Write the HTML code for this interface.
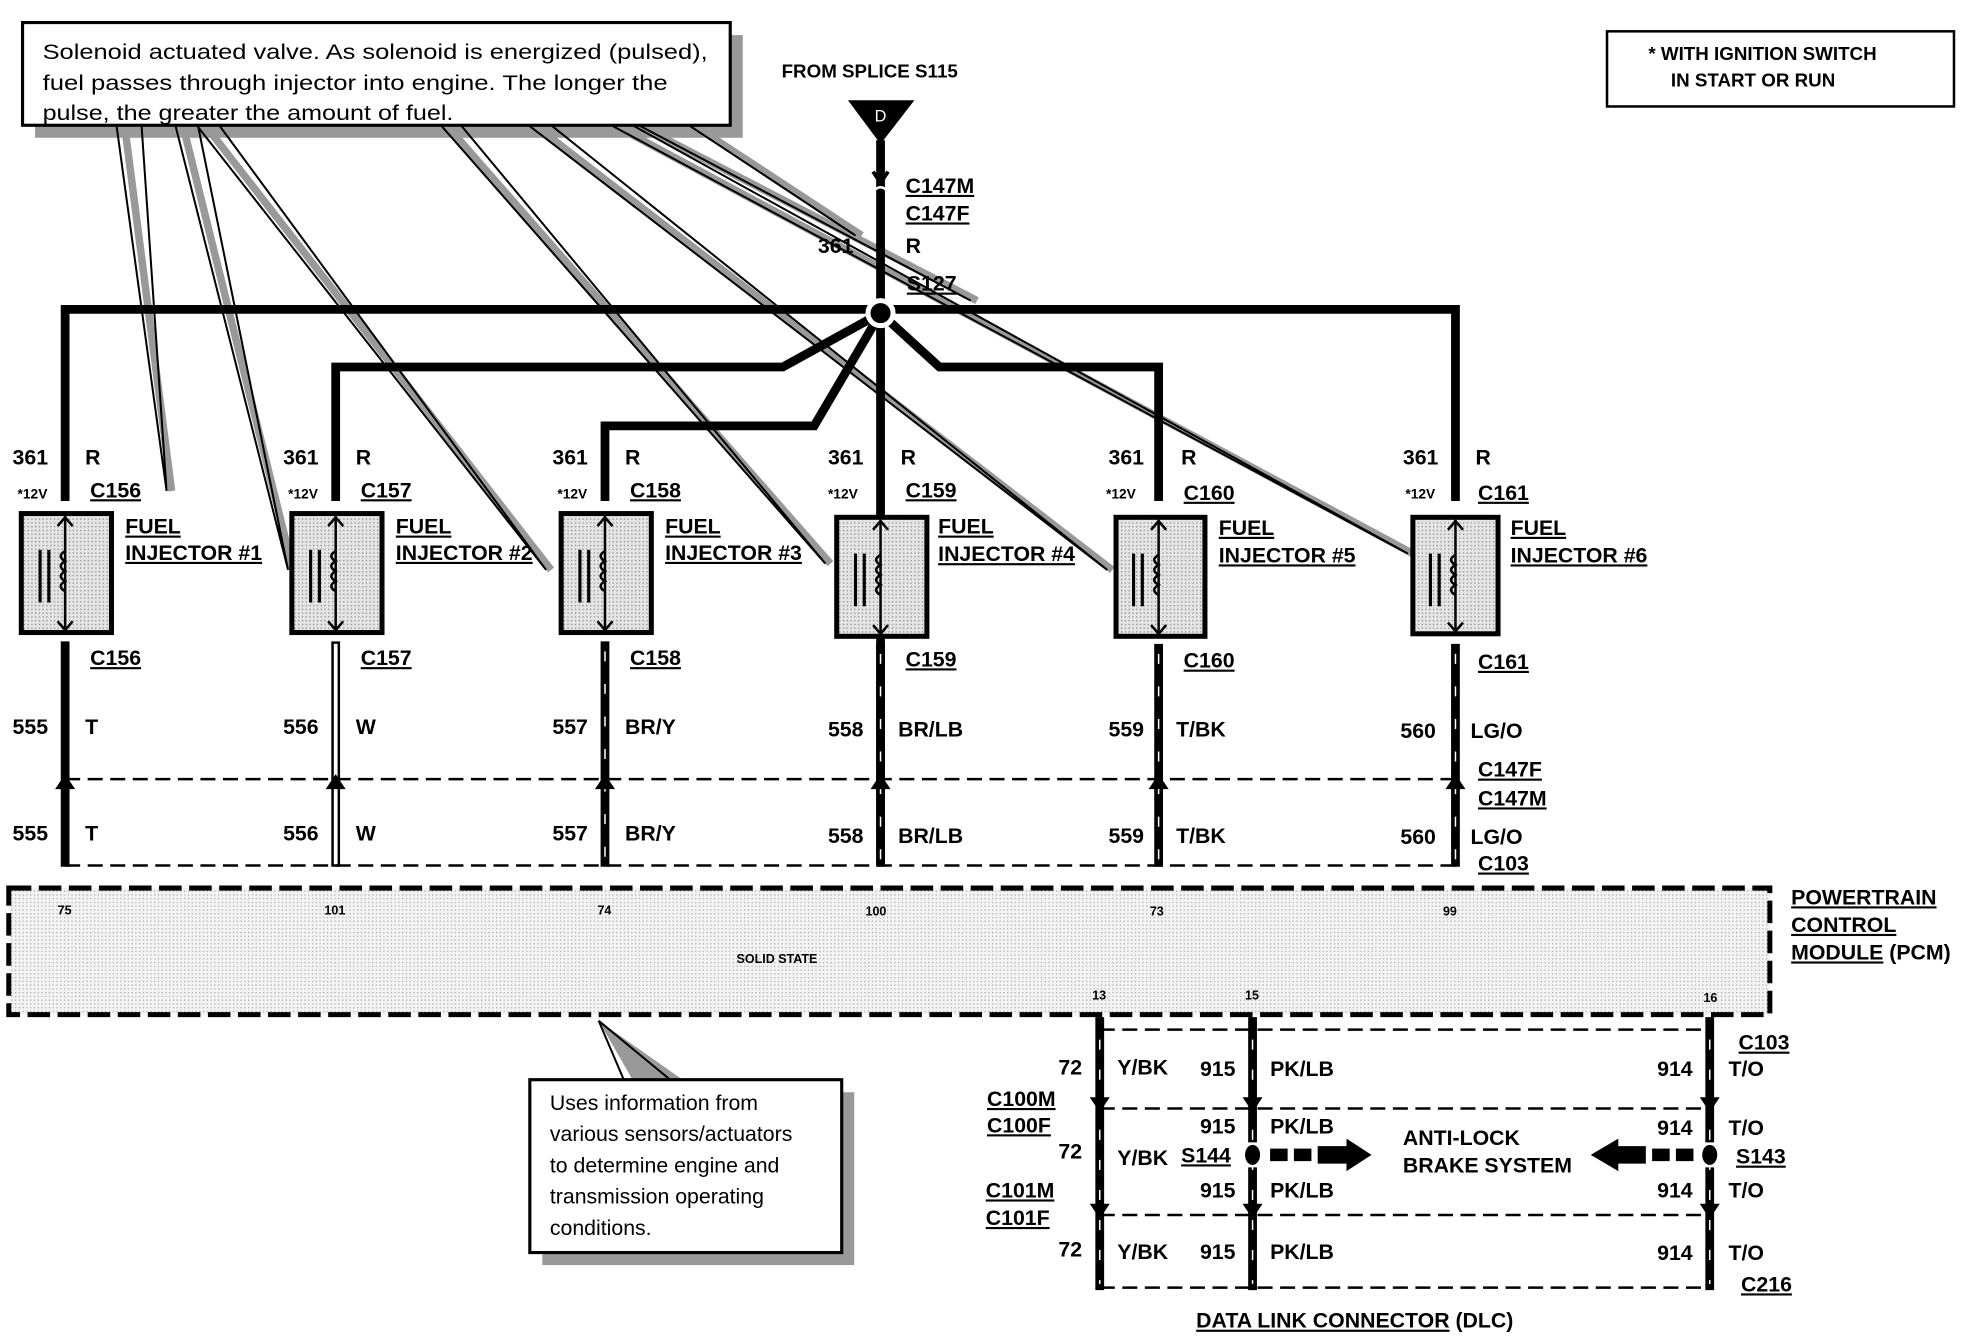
<!DOCTYPE html>
<html><head><meta charset="utf-8"><style>
html,body{margin:0;padding:0;background:#fff;}
svg{display:block;}
text{font-family:"Liberation Sans Narrow","Liberation Sans",sans-serif;font-weight:bold;fill:#000;}
.n{font-family:"Liberation Sans",sans-serif;font-weight:normal;font-size:17px;}
.b{font-size:17px;}
.s{font-size:11px;}
.u{text-decoration:underline;}
</style></head><body>
<svg width="1964" height="1344" viewBox="0 0 1568 1073" xmlns="http://www.w3.org/2000/svg">
<defs>
<pattern id="dot" width="3" height="3" patternUnits="userSpaceOnUse"><rect width="3" height="3" fill="#e4e4e4"/><rect width="1" height="1" fill="#888"/></pattern>
<pattern id="dot2" width="3" height="3" patternUnits="userSpaceOnUse"><rect width="3" height="3" fill="#f3f3f3"/><rect width="1" height="1" fill="#aaa"/></pattern>
</defs>

<!-- top callout -->
<rect x="28" y="28" width="565" height="82" fill="#999"/>
<rect x="18" y="18" width="565" height="82" fill="#fff" stroke="#000" stroke-width="2.5"/>
<text class="n" x="34" y="47" textLength="531" lengthAdjust="spacingAndGlyphs">Solenoid actuated valve.  As solenoid is energized (pulsed),</text>
<text class="n" x="34" y="72" textLength="499" lengthAdjust="spacingAndGlyphs">fuel passes through injector into engine.  The longer the</text>
<text class="n" x="34" y="96" textLength="328" lengthAdjust="spacingAndGlyphs">pulse, the greater the amount of fuel.</text>

<!-- leaders -->
<g stroke="#999" stroke-width="6" fill="none">
<line x1="100" y1="104" x2="137" y2="392"/>
<line x1="147" y1="104" x2="234" y2="455"/>
<line x1="167" y1="104" x2="440" y2="455"/>
<line x1="360" y1="104" x2="663" y2="450"/>
<line x1="432" y1="104" x2="888" y2="455"/>
<line x1="498" y1="104" x2="1128" y2="442"/>
<line x1="518" y1="104" x2="780" y2="240"/>
<line x1="560" y1="104" x2="688" y2="188"/>
</g>
<g stroke="#000" stroke-width="1.6" fill="none">
<path d="M93 100 L133 392 L113 100"/>
<path d="M140 100 L230 455 L158 100"/>
<path d="M157 100 L436 455 L175 100"/>
<path d="M352 100 L659 450 L368 100"/>
<path d="M422 100 L884 455 L440 100"/>
<path d="M488 100 L1124 442 L505 100"/>
<path d="M510 100 L775 240"/>
<path d="M550 100 L683 188"/>
</g>

<!-- top right note -->
<rect x="1283" y="25" width="277" height="60" fill="#fff" stroke="#000" stroke-width="2"/>
<text x="1316" y="48" font-size="15">* WITH IGNITION SWITCH</text>
<text x="1334" y="69" font-size="15">IN START OR RUN</text>

<!-- source -->
<text x="624" y="62" font-size="15">FROM SPLICE S115</text>
<polygon points="677,80 730,80 703,115" fill="#000"/>
<text x="703" y="97" font-size="13" text-anchor="middle" style="fill:#fff;font-weight:normal">D</text>
<g stroke="#000" stroke-width="7" fill="none" stroke-linejoin="miter">
<line x1="703" y1="112" x2="703" y2="690"/>
<polyline points="52,400 52,247 1162,247 1162,400"/>
<polyline points="703,250 625,293 268,293 268,400"/>
<polyline points="703,250 650,340 483,340 483,400"/>
<polyline points="703,250 750,293 925,293 925,400"/>
</g>
<path d="M697 137 L703 146 L709 137" stroke="#000" stroke-width="3" fill="none"/>
<path d="M697 153 Q703 146 709 153" stroke="#fff" stroke-width="2" fill="none"/>
<circle cx="703" cy="250" r="10" fill="#000" stroke="#fff" stroke-width="4"/>
<text class="b u" x="723" y="154">C147M</text>
<text class="b u" x="723" y="176">C147F</text>
<text class="b" x="653" y="202">361</text>
<text class="b" x="723" y="202">R</text>
<text class="b u" x="724" y="232">S127</text>

<!-- Injector columns -->
<g transform="translate(52,0)">
<text class="b" x="-42" y="371">361</text><text class="b" x="16" y="371">R</text>
<text class="s" x="-38" y="398">*12V</text><text class="b u" x="20" y="397">C156</text>
<rect x="-35" y="410" width="72" height="95" fill="url(#dot)" stroke="#000" stroke-width="4"/>
<line x1="0" y1="412" x2="0" y2="503" stroke="#000" stroke-width="2"/>
<path d="M-6 420 L0 413 L6 420 M-6 496 L0 503 L6 496" stroke="#000" stroke-width="2" fill="none"/>
<path d="M0 440 q-7 4 0 8 q-7 4 0 8 q-7 4 0 8 q-7 4 0 8" stroke="#000" stroke-width="2" fill="none"/>
<line x1="-20" y1="439" x2="-20" y2="481" stroke="#000" stroke-width="2.5"/><line x1="-13" y1="439" x2="-13" y2="481" stroke="#000" stroke-width="2.5"/>
<text class="b u" x="48" y="426">FUEL</text><text class="b u" x="48" y="447">INJECTOR #1</text>
<text class="b u" x="20" y="531">C156</text>
<line x1="0" y1="512" x2="0" y2="692" stroke="#000" stroke-width="7"/>
<text class="b" x="-42" y="586">555</text><text class="b" x="16" y="586">T</text>
<text class="b" x="-42" y="671">555</text><text class="b" x="16" y="671">T</text>
</g>
<g transform="translate(268,0)">
<text class="b" x="-42" y="371">361</text><text class="b" x="16" y="371">R</text>
<text class="s" x="-38" y="398">*12V</text><text class="b u" x="20" y="397">C157</text>
<rect x="-35" y="410" width="72" height="95" fill="url(#dot)" stroke="#000" stroke-width="4"/>
<line x1="0" y1="412" x2="0" y2="503" stroke="#000" stroke-width="2"/>
<path d="M-6 420 L0 413 L6 420 M-6 496 L0 503 L6 496" stroke="#000" stroke-width="2" fill="none"/>
<path d="M0 440 q-7 4 0 8 q-7 4 0 8 q-7 4 0 8 q-7 4 0 8" stroke="#000" stroke-width="2" fill="none"/>
<line x1="-20" y1="439" x2="-20" y2="481" stroke="#000" stroke-width="2.5"/><line x1="-13" y1="439" x2="-13" y2="481" stroke="#000" stroke-width="2.5"/>
<text class="b u" x="48" y="426">FUEL</text><text class="b u" x="48" y="447">INJECTOR #2</text>
<text class="b u" x="20" y="531">C157</text>
<line x1="0" y1="512" x2="0" y2="692" stroke="#000" stroke-width="7"/>
<line x1="0" y1="514" x2="0" y2="690" stroke="#fff" stroke-width="3"/>
<text class="b" x="-42" y="586">556</text><text class="b" x="16" y="586">W</text>
<text class="b" x="-42" y="671">556</text><text class="b" x="16" y="671">W</text>
</g>
<g transform="translate(483,0)">
<text class="b" x="-42" y="371">361</text><text class="b" x="16" y="371">R</text>
<text class="s" x="-38" y="398">*12V</text><text class="b u" x="20" y="397">C158</text>
<rect x="-35" y="410" width="72" height="95" fill="url(#dot)" stroke="#000" stroke-width="4"/>
<line x1="0" y1="412" x2="0" y2="503" stroke="#000" stroke-width="2"/>
<path d="M-6 420 L0 413 L6 420 M-6 496 L0 503 L6 496" stroke="#000" stroke-width="2" fill="none"/>
<path d="M0 440 q-7 4 0 8 q-7 4 0 8 q-7 4 0 8 q-7 4 0 8" stroke="#000" stroke-width="2" fill="none"/>
<line x1="-20" y1="439" x2="-20" y2="481" stroke="#000" stroke-width="2.5"/><line x1="-13" y1="439" x2="-13" y2="481" stroke="#000" stroke-width="2.5"/>
<text class="b u" x="48" y="426">FUEL</text><text class="b u" x="48" y="447">INJECTOR #3</text>
<text class="b u" x="20" y="531">C158</text>
<line x1="0" y1="512" x2="0" y2="692" stroke="#000" stroke-width="7"/>
<line x1="0" y1="520" x2="0" y2="690" stroke="#fff" stroke-width="1.2" stroke-dasharray="8 18"/>
<text class="b" x="-42" y="586">557</text><text class="b" x="16" y="586">BR/Y</text>
<text class="b" x="-42" y="671">557</text><text class="b" x="16" y="671">BR/Y</text>
</g>
<g transform="translate(703,0)">
<text class="b" x="-42" y="371">361</text><text class="b" x="16" y="371">R</text>
<text class="s" x="-42" y="398">*12V</text><text class="b u" x="20" y="397">C159</text>
<rect x="-35" y="413" width="72" height="95" fill="url(#dot)" stroke="#000" stroke-width="4"/>
<line x1="0" y1="415" x2="0" y2="506" stroke="#000" stroke-width="2"/>
<path d="M-6 423 L0 416 L6 423 M-6 499 L0 506 L6 499" stroke="#000" stroke-width="2" fill="none"/>
<path d="M0 443 q-7 4 0 8 q-7 4 0 8 q-7 4 0 8 q-7 4 0 8" stroke="#000" stroke-width="2" fill="none"/>
<line x1="-20" y1="442" x2="-20" y2="484" stroke="#000" stroke-width="2.5"/><line x1="-13" y1="442" x2="-13" y2="484" stroke="#000" stroke-width="2.5"/>
<text class="b u" x="46" y="426">FUEL</text><text class="b u" x="46" y="448">INJECTOR #4</text>
<text class="b u" x="20" y="532">C159</text>
<line x1="0" y1="514" x2="0" y2="692" stroke="#000" stroke-width="7"/>
<line x1="0" y1="522" x2="0" y2="690" stroke="#fff" stroke-width="1.2" stroke-dasharray="8 18"/>
<text class="b" x="-42" y="588">558</text><text class="b" x="14" y="588">BR/LB</text>
<text class="b" x="-42" y="673">558</text><text class="b" x="14" y="673">BR/LB</text>
</g>
<g transform="translate(925,0)">
<text class="b" x="-40" y="371">361</text><text class="b" x="18" y="371">R</text>
<text class="s" x="-42" y="398">*12V</text><text class="b u" x="20" y="399">C160</text>
<rect x="-34" y="413" width="71" height="95" fill="url(#dot)" stroke="#000" stroke-width="4"/>
<line x1="0" y1="415" x2="0" y2="506" stroke="#000" stroke-width="2"/>
<path d="M-6 423 L0 416 L6 423 M-6 499 L0 506 L6 499" stroke="#000" stroke-width="2" fill="none"/>
<path d="M0 443 q-7 4 0 8 q-7 4 0 8 q-7 4 0 8 q-7 4 0 8" stroke="#000" stroke-width="2" fill="none"/>
<line x1="-20" y1="442" x2="-20" y2="484" stroke="#000" stroke-width="2.5"/><line x1="-13" y1="442" x2="-13" y2="484" stroke="#000" stroke-width="2.5"/>
<text class="b u" x="48" y="427">FUEL</text><text class="b u" x="48" y="449">INJECTOR #5</text>
<text class="b u" x="20" y="533">C160</text>
<line x1="0" y1="514" x2="0" y2="692" stroke="#000" stroke-width="7"/>
<line x1="0" y1="522" x2="0" y2="690" stroke="#fff" stroke-width="1.2" stroke-dasharray="8 18"/>
<text class="b" x="-40" y="588">559</text><text class="b" x="14" y="588">T/BK</text>
<text class="b" x="-40" y="673">559</text><text class="b" x="14" y="673">T/BK</text>
</g>
<g transform="translate(1162,0)">
<text class="b" x="-42" y="371">361</text><text class="b" x="16" y="371">R</text>
<text class="s" x="-40" y="398">*12V</text><text class="b u" x="18" y="399">C161</text>
<rect x="-34" y="413" width="68" height="93" fill="url(#dot)" stroke="#000" stroke-width="4"/>
<line x1="0" y1="415" x2="0" y2="504" stroke="#000" stroke-width="2"/>
<path d="M-6 423 L0 416 L6 423 M-6 497 L0 504 L6 497" stroke="#000" stroke-width="2" fill="none"/>
<path d="M0 443 q-7 4 0 8 q-7 4 0 8 q-7 4 0 8 q-7 4 0 8" stroke="#000" stroke-width="2" fill="none"/>
<line x1="-20" y1="442" x2="-20" y2="484" stroke="#000" stroke-width="2.5"/><line x1="-13" y1="442" x2="-13" y2="484" stroke="#000" stroke-width="2.5"/>
<text class="b u" x="44" y="427">FUEL</text><text class="b u" x="44" y="449">INJECTOR #6</text>
<text class="b u" x="18" y="534">C161</text>
<line x1="0" y1="514" x2="0" y2="692" stroke="#000" stroke-width="7"/>
<line x1="0" y1="522" x2="0" y2="690" stroke="#fff" stroke-width="1.2" stroke-dasharray="8 18"/>
<text class="b" x="-44" y="589">560</text><text class="b" x="12" y="589">LG/O</text>
<text class="b" x="-44" y="674">560</text><text class="b" x="12" y="674">LG/O</text>
<text class="b u" x="18" y="620">C147F</text>
<text class="b u" x="18" y="643">C147M</text>
<text class="b u" x="18" y="695">C103</text>
</g>

<!-- connector dashed lines -->
<g stroke="#000" stroke-width="2" stroke-dasharray="12 6" fill="none">
<line x1="52" y1="622" x2="1162" y2="622"/>
<line x1="52" y1="691" x2="1162" y2="691"/>
</g>
<g fill="#000">
<path d="M44 630 L52 618 L60 630 Z"/><path d="M260 630 L268 618 L276 630 Z"/><path d="M475 630 L483 618 L491 630 Z"/>
<path d="M695 630 L703 618 L711 630 Z"/><path d="M917 630 L925 618 L933 630 Z"/><path d="M1154 630 L1162 618 L1170 630 Z"/>
</g>

<!-- PCM -->
<rect x="7" y="709" width="1406" height="101" fill="url(#dot2)" stroke="#000" stroke-width="4" stroke-dasharray="18 6"/>
<g font-size="10" style="font-weight:normal">
<text x="46" y="730">75</text><text x="259" y="730">101</text><text x="477" y="730">74</text>
<text x="691" y="731">100</text><text x="918" y="731">73</text><text x="1152" y="731">99</text>
<text x="872" y="798">13</text><text x="994" y="798">15</text><text x="1360" y="800">16</text>
</g>
<text x="588" y="769" font-size="10">SOLID STATE</text>
<text class="b u" x="1430" y="722">POWERTRAIN</text>
<text class="b u" x="1430" y="744">CONTROL</text>
<text class="b" x="1430" y="766"><tspan class="u">MODULE</tspan> (PCM)</text>

<!-- bottom callout -->
<polygon points="478,815 505,862 545,862" fill="#999"/>
<path d="M498 862 L478 815 L535 862" stroke="#000" stroke-width="1.6" fill="none"/>
<rect x="433" y="872" width="249" height="138" fill="#999"/>
<rect x="423" y="862" width="249" height="138" fill="#fff" stroke="#000" stroke-width="2.5"/>
<text class="n" x="439" y="886">Uses information from</text>
<text class="n" x="439" y="911">various sensors/actuators</text>
<text class="n" x="439" y="936">to determine engine and</text>
<text class="n" x="439" y="961">transmission operating</text>
<text class="n" x="439" y="986">conditions.</text>

<!-- DLC -->
<g stroke="#000" stroke-width="2" stroke-dasharray="12 6" fill="none">
<line x1="878" y1="822" x2="1365" y2="822"/>
<line x1="878" y1="885" x2="1365" y2="885"/>
<line x1="878" y1="970" x2="1365" y2="970"/>
<line x1="878" y1="1028" x2="1365" y2="1028"/>
</g>
<g stroke="#000" stroke-width="7">
<line x1="878" y1="812" x2="878" y2="1030"/>
<line x1="1000" y1="812" x2="1000" y2="912"/>
<line x1="1000" y1="932" x2="1000" y2="1030"/>
<line x1="1365" y1="812" x2="1365" y2="912"/>
<line x1="1365" y1="932" x2="1365" y2="1030"/>
</g>
<g stroke="#fff" stroke-width="1.2" stroke-dasharray="8 16">
<line x1="878" y1="830" x2="878" y2="1025"/>
<line x1="1000" y1="830" x2="1000" y2="1025"/>
<line x1="1365" y1="830" x2="1365" y2="1025"/>
</g>
<g fill="#000">
<path d="M870 876 L878 888 L886 876 Z"/><path d="M992 876 L1000 888 L1008 876 Z"/><path d="M1357 876 L1365 888 L1373 876 Z"/>
<path d="M870 961 L878 973 L886 961 Z"/><path d="M992 961 L1000 973 L1008 961 Z"/><path d="M1357 961 L1365 973 L1373 961 Z"/>
<ellipse cx="1000" cy="922" rx="6" ry="8"/><ellipse cx="1365" cy="922" rx="6" ry="8"/>
<rect x="1014" y="917" width="14" height="10"/><rect x="1033" y="917" width="14" height="10"/>
<polygon points="1052,915 1075,915 1075,909 1095,922 1075,935 1075,929 1052,929"/>
<rect x="1338" y="917" width="14" height="10"/><rect x="1319" y="917" width="14" height="10"/>
<polygon points="1314,915 1292,915 1292,909 1270,922 1292,935 1292,929 1314,929"/>
</g>
<text class="b" x="845" y="858">72</text><text class="b" x="892" y="858">Y/BK</text>
<text class="b" x="958" y="859">915</text><text class="b" x="1014" y="859">PK/LB</text>
<text class="b" x="1323" y="859">914</text><text class="b" x="1380" y="859">T/O</text>
<text class="b u" x="1388" y="838">C103</text>
<text class="b u" x="788" y="883">C100M</text><text class="b u" x="788" y="904">C100F</text>
<text class="b" x="845" y="925">72</text><text class="b" x="892" y="930">Y/BK</text>
<text class="b" x="958" y="905">915</text><text class="b" x="1014" y="905">PK/LB</text>
<text class="b u" x="943" y="928">S144</text>
<text class="b" x="958" y="956">915</text><text class="b" x="1014" y="956">PK/LB</text>
<text class="b" x="1323" y="906">914</text><text class="b" x="1380" y="906">T/O</text>
<text class="b u" x="1386" y="929">S143</text>
<text class="b" x="1323" y="956">914</text><text class="b" x="1380" y="956">T/O</text>
<text class="b" x="1120" y="914">ANTI-LOCK</text><text class="b" x="1120" y="936">BRAKE SYSTEM</text>
<text class="b u" x="787" y="956">C101M</text><text class="b u" x="787" y="978">C101F</text>
<text class="b" x="845" y="1003">72</text><text class="b" x="892" y="1005">Y/BK</text>
<text class="b" x="958" y="1005">915</text><text class="b" x="1014" y="1005">PK/LB</text>
<text class="b" x="1323" y="1006">914</text><text class="b" x="1380" y="1006">T/O</text>
<text class="b u" x="1390" y="1031">C216</text>
<text class="b" x="955" y="1060"><tspan class="u">DATA LINK CONNECTOR</tspan> (DLC)</text>
</svg>
</body></html>
